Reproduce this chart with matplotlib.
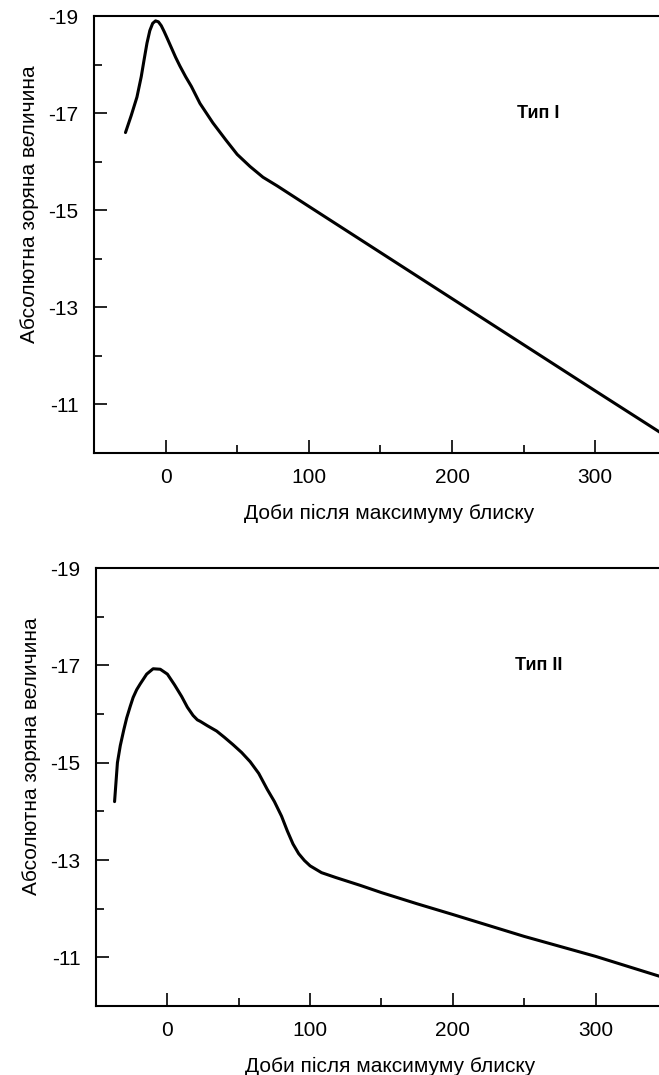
import matplotlib.pyplot as plt

plt.rcParams['font.family'] = ['Liberation Sans', 'DejaVu Sans']
plt.rcParams['axes.unicode_minus'] = False

# крива типу I (доби, абсолютна зоряна величина)
days1 = [-28, -24, -20, -17, -15, -13, -11, -9, -7, -5, -3, -1, 1, 4, 7, 10, 14, 18, 24,
         33, 42, 50, 59, 68, 78, 100, 150, 200, 250, 300, 345]
mag1 = [-16.6, -16.95, -17.33, -17.75, -18.1, -18.44, -18.7, -18.85, -18.9, -18.88, -18.8,
        -18.68, -18.55, -18.35, -18.15, -17.97, -17.75, -17.55, -17.2,
        -16.8, -16.45, -16.15, -15.9, -15.68, -15.5, -15.08, -14.13, -13.18, -12.23, -11.28,
        -10.43]

# крива типу II
days2 = [-37, -36, -35, -33, -30.5, -28.5, -26, -24, -21.5, -19, -14.5, -10, -5, 0, 5, 10,
         14, 18, 21, 23, 28, 34.5, 40, 46, 52, 58, 64, 70, 75, 80, 84, 88, 92, 96, 100, 108,
         118, 135, 150, 175, 200, 250, 300, 346]
mag2 = [-14.2, -14.6, -15.0, -15.35, -15.68, -15.92, -16.16, -16.34, -16.5, -16.62, -16.82,
        -16.93, -16.92, -16.82, -16.6, -16.36, -16.14, -15.97, -15.88, -15.85, -15.76,
        -15.65, -15.52, -15.37, -15.21, -15.02, -14.78, -14.45, -14.2, -13.9, -13.6, -13.33,
        -13.13, -12.99, -12.88, -12.74, -12.64, -12.48, -12.33, -12.1, -11.88, -11.43,
        -11.02, -10.6]

xmajor = [0, 100, 200, 300]
xminor = [50, 150, 250]
ymajor = [-19, -17, -15, -13, -11]
yminor = [-18, -16, -14, -12]

fig = plt.figure(figsize=(6.59, 10.75), dpi=100)
ax1 = fig.add_axes([0.1426, 0.5786, 1.038 - 0.1426, 0.9851 - 0.5786])
ax2 = fig.add_axes([0.1457, 0.0642, 1.038 - 0.1457, 0.4716 - 0.0642])

for ax, d, m, name in [(ax1, days1, mag1, 'Тип I'), (ax2, days2, mag2, 'Тип II')]:
    ax.plot(d, m, color='black', lw=2.2, solid_capstyle='round', solid_joinstyle='round')
    ax.set_xlim(-50, 362)
    ax.set_ylim(-10, -19)
    ax.set_xticks(xmajor)
    ax.set_xticks(xminor, minor=True)
    ax.set_yticks(ymajor)
    ax.set_yticks(yminor, minor=True)
    ax.tick_params(which='major', direction='in', length=9.5, width=1.2, labelsize=15, pad=11)
    ax.tick_params(which='minor', direction='in', length=6, width=1.2)
    for s in ax.spines.values():
        s.set_linewidth(1.5)
    ax.set_xlabel('Доби після максимуму блиску', fontsize=15, labelpad=12)
    ax.set_ylabel('Абсолютна зоряна величина', fontsize=15)
    ax.yaxis.set_label_coords(-0.094, 0.57)
    ax.text(260, -17, name, fontsize=13, fontweight='bold', ha='center', va='center')

fig.savefig('out.png', dpi=100)
